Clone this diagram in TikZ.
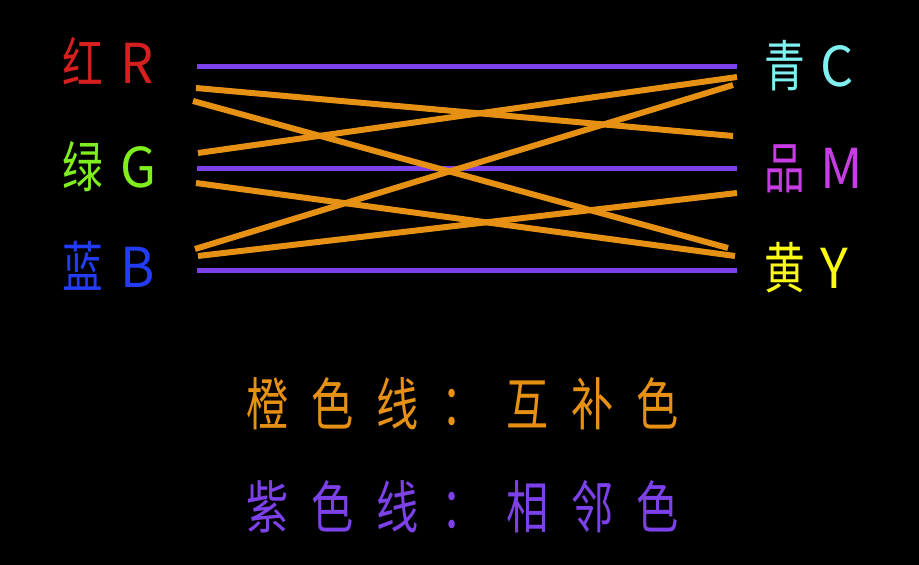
\documentclass[tikz,border=0pt]{standalone}
\usepackage{fontspec}
\newfontfamily\cjk[FakeStretch=0.74]{Noto Sans CJK SC}
\newfontfamily\latn[FakeStretch=0.95]{Noto Sans CJK SC}
\usetikzlibrary{positioning}
\definecolor{labred}{RGB}{214,32,32}
\definecolor{labgreen}{RGB}{128,238,30}
\definecolor{labblue}{RGB}{35,60,245}
\definecolor{labcyan}{RGB}{128,240,240}
\definecolor{labmagenta}{RGB}{200,60,230}
\definecolor{labyellow}{RGB}{250,250,20}
\definecolor{lineorange}{RGB}{230,145,20}
\definecolor{linepurple}{RGB}{125,65,235}

\begin{document}
\begin{tikzpicture}[x=1pt, y=-1pt]
    \tikzstyle{lbl}=[inner sep=0pt, anchor=base west, font=\cjk\fontsize{55}{55}\selectfont]
    \tikzstyle{note}=[inner sep=0pt, anchor=base west, font=\cjk\fontsize{57}{57}\selectfont\addfontfeature{LetterSpace=40}]
    \tikzstyle{adj}=[draw=linepurple, line width=5pt]
    \tikzstyle{comp}=[draw=lineorange, line width=6pt]

    \fill[black] (0,0) rectangle (919,565);

    % colour labels
    \node[lbl, text=labred] (R) at (62,83) {红\hspace{18pt}{\latn R}};
    \node[lbl, text=labgreen] (G) at (62,187) {绿\hspace{18pt}{\latn G}};
    \node[lbl, text=labblue] (B) at (62,287) {蓝\hspace{18pt}{\latn B}};
    \node[lbl, text=labcyan] (C) at (764,86) {青\hspace{16pt}{\latn C}};
    \node[lbl, text=labmagenta] (M) at (764,188) {品\hspace{16pt}{\latn M}};
    \node[lbl, text=labyellow] (Y) at (764,288) {黄\hspace{16pt}{\latn Y}};

    % line ends
    \coordinate (r0) at (197,66);   \coordinate (c0) at (737,66);
    \coordinate (g0) at (197,168);  \coordinate (m0) at (737,168);
    \coordinate (b0) at (197,270);  \coordinate (y0) at (737,270);
    \coordinate (r1) at (196,88);   \coordinate (m1) at (733,136);
    \coordinate (r2) at (193,101);  \coordinate (y1) at (728,248);
    \coordinate (g1) at (198,153);  \coordinate (c1) at (737,77);
    \coordinate (g2) at (196,183);  \coordinate (y2) at (735,256);
    \coordinate (b1) at (195,249);  \coordinate (c2) at (733,85);
    \coordinate (b2) at (198,256);  \coordinate (m2) at (737,193);

    \draw[adj] (r0) -- (c0);
    \draw[adj] (g0) -- (m0);
    \draw[adj] (b0) -- (y0);
    \draw[comp] (r1) -- (m1);
    \draw[comp] (r2) -- (y1);
    \draw[comp] (g1) -- (c1);
    \draw[comp] (g2) -- (y2);
    \draw[comp] (b1) -- (c2);
    \draw[comp] (b2) -- (m2);

    % legend
    \node[note, text=lineorange] (comptext) at (246,425) {橙色线：互补色};
    \node[note, text=linepurple] (adjtext) at (246,528) {紫色线：相邻色};
\end{tikzpicture}
\end{document}
